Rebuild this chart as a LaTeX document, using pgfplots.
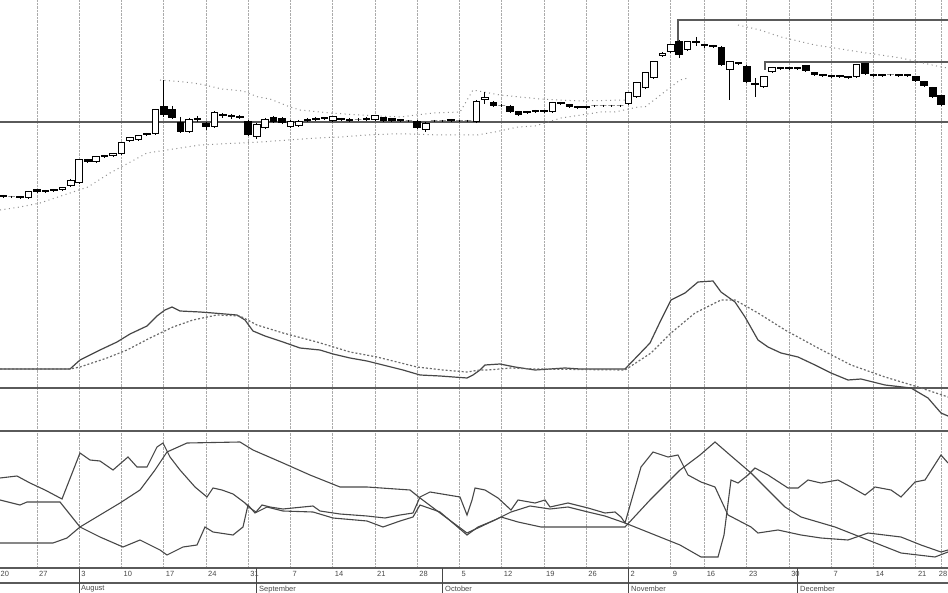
\documentclass[border=0pt]{standalone}
\usepackage{pgfplots}
\pgfplotsset{compat=1.18}
\usepackage{pgfplotstable}
\usepackage{fontspec}
\setmainfont{Liberation Sans}
\definecolor{ink}{HTML}{474747}
\definecolor{hline}{HTML}{5A5A5A}
\definecolor{gridc}{HTML}{ABABAB}
\definecolor{band}{HTML}{8C8C8C}
\definecolor{sig}{HTML}{6A6A6A}

% candle mark: wick + body, offsets in pt (1 data unit = 1pt)
\pgfdeclareplotmark{candle}{%
  \pgfpathmoveto{\pgfpoint{0pt}{\cH pt}}%
  \pgfpathlineto{\pgfpoint{0pt}{\cL pt}}%
  \pgfusepathqstroke
  \pgfpathrectanglecorners{\pgfpoint{-3.3pt}{0pt}}{\pgfpoint{3.3pt}{\cC pt}}%
  \pgfusepathqfillstroke
}

% x = chart position of the trading day, o h l c = price levels (chart rows)
\pgfplotstableread{
x o h l c
28.55 198 191 199 192
45.45 192 190 193 191
53.9 191 189 192 190
62.35 190 187 191 188
70.8 186 179 187 181
79.25 183 159 184 160
96.15 162 156 163 157
104.6 157 155 158 156
113.05 156 153 157 154
121.5 154 142 155 143
129.95 141 137 142 138
138.4 140 135 141 136
146.85 135 133 136 134
155.3 134 109 135 110
189.1 132 118 133 120
197.55 120 116 122 119
214.45 127 111 128 113
256.7 137 123 139 125
265.15 128 118 129 120
290.5 127 120 128 122
298.95 126 120 127 122
332.75 121 116 122 117
341.2 120 118 121 119
366.55 120 117 121 119
375 120 115 121 116
425.7 130 122 132 124
451.05 121 119 122 120
476.4 122 100 123 102
484.85 100 92 104 98
527.1 113 111 114 112
535.55 112 110 113 111
552.45 112 102 113 103
586.25 108 106 109 107
628.5 104 92 105 93
636.95 97 82 98 83
645.4 88 72 89 73
653.85 78 61 79 62
662.3 56 52 57 54
670.75 52 44 53 45
687.65 50 41 51 42
729.9 70 61 100 62
763.7 87 76 88 77
772.15 72 67 73 68
789.05 69 67 70 68
856.65 77 64 78 65
}\upcandles

\pgfplotstableread{
x o h l c
3.2 196 195 198 197
11.65 197 196 198 197
20.1 197 196 199 198
37 190 189 193 192
87.7 160 159 163 162
163.75 107 80 117 115
172.2 110 106 119 118
180.65 123 117 133 132
206 124 122 130 127
222.9 115 113 118 116
231.35 116 114 119 117
239.8 117 115 119 118
248.25 122 120 136 135
273.6 118 116 123 122
282.05 119 117 124 123
307.4 120 118 122 121
315.85 119 117 121 120
324.3 118 117 120 119
349.65 120 118 122 121
358.1 120 118 121 120
383.45 118 117 122 121
391.9 119 118 122 121
400.35 120 119 122 121
408.8 121 120 122 121
417.25 122 120 129 128
434.15 121 120 122 121
442.6 121 120 122 121
459.5 121 120 122 121
467.95 121 120 122 121
493.3 103 101 107 106
501.75 106 104 107 106
510.2 107 105 113 112
518.65 112 111 116 115
544 111 110 113 112
560.9 103 102 105 104
569.35 105 104 108 107
577.8 107 106 109 108
594.7 106 105 107 106
603.15 106 105 107 106
611.6 106 105 107 106
620.05 106 105 107 106
679.2 42 40 58 55
696.1 42 37 46 43
704.55 45 44 48 46
713 46 45 48 47
721.45 48 46 66 65
738.35 63 62 65 64
746.8 67 65 83 82
755.25 84 78 97 85
780.6 68 67 70 69
797.5 68 67 70 69
805.95 66 65 72 71
814.4 73 72 76 75
822.85 75 74 77 76
831.3 76 75 78 77
839.75 76 75 78 77
848.2 77 76 79 78
865.1 64 63 75 74
873.55 75 74 77 76
882 75 74 77 76
890.45 75 74 76 75
898.9 75 74 77 76
907.35 75 74 77 76
915.8 77 76 82 81
924.25 82 81 87 86
932.7 88 87 98 97
941.15 96 95 106 105
}\downcandles

\begin{document}
\begin{tikzpicture}[lbl/.style={anchor=north west, inner sep=0pt, font=\fontsize{7.5}{8}\selectfont, text=ink}]
\begin{axis}[
  scale only axis, width=948pt, height=568pt,
  xmin=0, xmax=948, ymin=0, ymax=568, y dir=reverse,
  axis line style={draw=none},
  ytick=\empty,
  xtick={37,79.25,121.5,163.75,206,248.25,290.5,332.75,375,417.25,459.5,501.75,544,586.25,628.5,670.75,704.55,746.8,789.05,831.3,873.55,915.8,941.15},
  xticklabels={27,3,10,17,24,31,7,14,21,28,5,12,19,26,2,9,16,23,30,7,14,21,{}},
  major tick length=0pt,
  xmajorgrids, grid style={gridc, densely dotted, line width=0.8pt},
  xticklabel style={anchor=north west, inner sep=0pt, xshift=2pt, yshift=-3pt,
    font=\fontsize{7.5}{8}\selectfont, text=ink},
  clip=false,
]
% horizontal reference lines
\addplot[hline, line width=1.6pt] coordinates {(0,122) (948,122)};
\addplot[hline, line width=1.6pt] coordinates {(0,388) (948,388)};
\addplot[hline, line width=1.6pt] coordinates {(0,431) (948,431)};
\addplot[hline, line width=1.6pt] coordinates {(0,568) (948,568)};
\addplot[hline, line width=1.6pt] coordinates {(0,583) (948,583)};
\addplot[hline, line width=1.4pt] coordinates {(678,45) (678,20) (948,20)};
\addplot[hline, line width=1.4pt] coordinates {(765,70) (765,62) (948,62)};
% month separators in the date strip
\addplot[ink, line width=0.9pt] coordinates {(79.25,568) (79.25,593)};
\addplot[ink, line width=0.9pt] coordinates {(256.7,568) (256.7,593)};
\addplot[ink, line width=0.9pt] coordinates {(442.6,568) (442.6,593)};
\addplot[ink, line width=0.9pt] coordinates {(628.5,568) (628.5,593)};
\addplot[ink, line width=0.9pt] coordinates {(797.5,568) (797.5,593)};

% price bands (sparse dots)
\addplot[band, dash pattern=on 1pt off 3.5pt, line width=1pt] coordinates {
(160,80) (185,82) (200,84) (222,89) (243,91) (258,97) (270,99) (290,107) (300,110)
(330,113) (360,115) (400,117) (433,113) (460,112) (473,90) (500,95) (540,99) (580,101) (625,100)};
\addplot[band, dash pattern=on 1pt off 3.5pt, line width=1pt] coordinates {
(738,25) (760,30) (781,37) (815,45) (860,52) (901,58) (941,67) (948,68)};
\addplot[band, dash pattern=on 1pt off 3.5pt, line width=1pt] coordinates {
(0,210) (20,207) (40,203) (70,193) (88,187) (110,173) (147,153) (200,145) (260,142)
(317,138) (340,137) (367,135) (390,134) (410,134) (440,135) (477,135) (495,132)
(518,127) (535,126) (561,118) (601,112) (615,112) (638,107) (645,107) (680,80) (688,78)};

% candles
\addplot[only marks, mark=candle,
  mark options={draw=black, fill=white, line width=1pt, solid},
  visualization depends on={\thisrow{o}-\thisrow{h} \as \cH},
  visualization depends on={\thisrow{o}-\thisrow{l} \as \cL},
  visualization depends on={\thisrow{o}-\thisrow{c} \as \cC},
] table[x=x, y=o] {\upcandles};
\addplot[only marks, mark=candle,
  mark options={draw=black, fill=black, line width=1pt, solid},
  visualization depends on={\thisrow{o}-\thisrow{h} \as \cH},
  visualization depends on={\thisrow{o}-\thisrow{l} \as \cL},
  visualization depends on={\thisrow{o}-\thisrow{c} \as \cC},
] table[x=x, y=o] {\downcandles};

% MACD-type pair
\addplot[ink, line width=1.2pt] coordinates {
(0,369) (70,369) (80,360) (100,350) (117,342) (130,334) (147,326) (157,316) (165,310)
(172,307) (180,311) (200,312) (213,313) (237,315) (245,320) (253,331) (265,336)
(283,342) (300,348) (320,350) (333,354) (350,358) (367,361) (383,365) (403,370)
(420,375) (440,376) (467,378) (473,375) (480,370) (485,365) (500,364) (515,367)
(535,370) (565,368) (580,369) (625,369) (650,343) (660,322) (671,300) (685,293)
(698,282) (713,281) (721,292) (735,302) (745,317) (758,340) (768,347) (781,353)
(798,357) (815,365) (831,373) (848,380) (861,379) (885,385) (911,388) (928,398)
(941,413) (948,416)};
\addplot[sig, dash pattern=on 2pt off 2pt, line width=1.2pt] coordinates {
(0,369) (70,369) (80,367) (107,358) (127,350) (150,338) (173,327) (193,320) (217,315)
(240,316) (257,325) (283,333) (317,342) (350,352) (377,357) (417,367) (443,370)
(467,372) (480,370) (488,370) (511,368) (535,369) (625,370) (651,353) (671,333)
(695,313) (721,300) (735,300) (758,313) (785,330) (818,348) (851,365) (885,377)
(918,387) (948,397)};

% oscillator panel
\addplot[ink, line width=1.1pt] coordinates {
(0,478) (17,476) (30,483) (45,490) (62,499) (80,453) (90,460) (100,461) (113,470)
(128,457) (137,467) (147,467) (157,447) (163,443) (170,457) (180,470) (195,487)
(207,497) (213,488) (222,490) (233,494) (245,503) (250,508) (256,512) (262,505)
(270,507) (283,509) (313,506) (320,511) (340,514) (367,516) (385,518) (400,515)
(413,513) (420,497) (430,492) (460,497) (467,515) (472,500) (475,488) (485,490)
(498,498) (511,510) (518,500) (535,503) (545,500) (550,507) (568,503) (588,508)
(605,513) (615,512) (621,517) (625,523) (641,467) (653,452) (668,457) (678,455)
(688,475) (701,482) (715,487) (721,500) (728,515) (751,527) (758,533) (778,530)
(801,535) (821,538) (848,540) (868,533) (901,537) (921,545) (941,552) (948,550)};
\addplot[ink, line width=1.1pt] coordinates {
(0,500) (20,505) (27,502) (60,502) (80,527) (100,537) (123,547) (140,540) (160,550)
(167,555) (183,547) (197,545) (205,527) (213,532) (233,535) (243,527) (248,505)
(255,513) (267,507) (283,511) (313,512) (333,518) (367,521) (383,527) (400,521)
(413,517) (420,505) (440,512) (467,535) (478,527) (495,520) (511,512) (530,506)
(550,509) (568,507) (588,512) (605,516) (625,523) (650,533) (680,545) (701,557)
(718,557) (724,535) (731,480) (738,483) (748,475) (755,468) (768,475) (788,488)
(798,488) (808,480) (821,483) (838,480) (851,487) (865,495) (875,487) (891,490)
(901,497) (915,482) (925,480) (941,455) (948,463)};
\addplot[ink, line width=1.1pt] coordinates {
(0,543) (53,543) (67,538) (80,527) (100,515) (120,503) (140,490) (155,470) (167,452)
(187,443) (240,442) (253,450) (283,463) (310,475) (340,487) (367,487) (410,490)
(420,498) (440,513) (467,533) (480,527) (501,517) (518,522) (541,527) (625,527)
(650,500) (680,470) (700,455) (715,442) (730,455) (751,473) (785,507) (801,517)
(835,527) (868,540) (901,553) (935,557) (948,552)};

% edge week labels and month names
\node[lbl] at (axis cs:0.5,571) {20};
\node[lbl, anchor=north east] at (axis cs:947.5,571) {28};
\node[lbl] at (axis cs:81,585.5) {August};
\node[lbl] at (axis cs:259,585.5) {September};
\node[lbl] at (axis cs:445,585.5) {October};
\node[lbl] at (axis cs:631,585.5) {November};
\node[lbl] at (axis cs:800,585.5) {December};
\end{axis}
\pgfresetboundingbox
\path[use as bounding box] (0,-25pt) rectangle (948pt,568pt);
\end{tikzpicture}
\end{document}
